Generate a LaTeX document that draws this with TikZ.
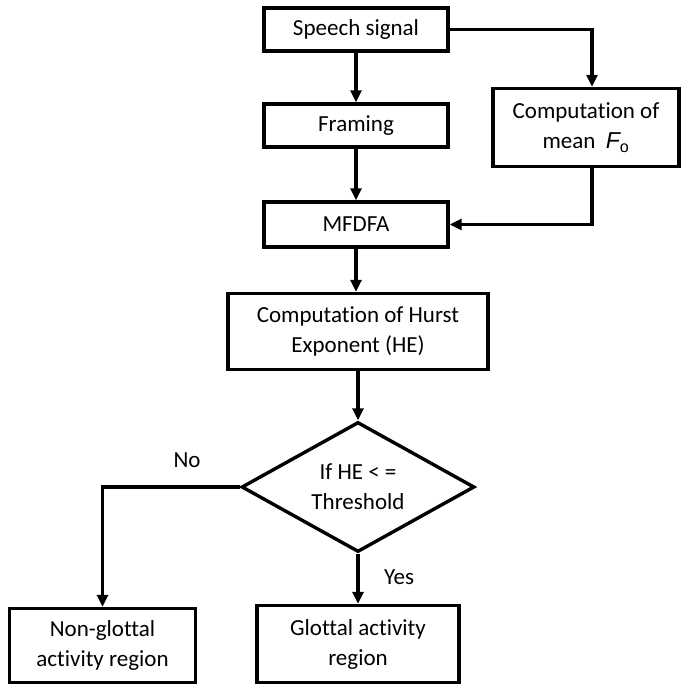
\documentclass[tikz,border=0pt]{standalone}
\usepackage{fontspec}
\setmainfont{Carlito}[Ligatures=NoCommon]
\newfontfamily\arialfont{Liberation Sans}
\usepackage{tikz}
\usetikzlibrary{arrows.meta, positioning, calc, shapes}

\tikzset{
    box/.style={draw, line width=3.4pt, inner sep=0pt, align=center,
        font=\fontsize{23}{30}\selectfont},
    decision/.style={diamond, draw, line width=3.4pt, inner sep=0pt, aspect=1.8,
        align=center, font=\fontsize{23}{30}\selectfont},
    arr/.style={-{Triangle[length=12pt, width=11pt]}, line width=3.4pt},
    lbl/.style={font=\fontsize{23}{30}\selectfont}
}

\begin{document}
\begin{tikzpicture}[x=1pt, y=-1pt]
    \useasboundingbox (0, 0) rectangle (682, 687);

    % 左列
    \node[box, minimum width=184, minimum height=43] (speech) at (356, 29.5) {Speech signal};
    \node[box, minimum width=184, minimum height=43] (framing) at (356, 125.5) {Framing};
    \node[box, minimum width=184, minimum height=45] (mfdfa) at (356, 224.5) {MFDFA};

    % 右侧 F0
    \node[box, minimum width=186, minimum height=78] (meanf) at (586, 127.5)
        {Computation of\\mean\ \ {\arialfont\itshape F}\textsubscript{\arialfont o}};

    % 下部
    \node[box, minimum width=260, minimum height=76] (hurst) at (358, 331.5)
        {Computation of Hurst\\Exponent (HE)};
    \node[decision, minimum width=233, minimum height=130] (dec) at (358, 487)
        {If HE < =\\Threshold};
    \node[box, minimum width=186, minimum height=74] (nong) at (102.5, 645.5)
        {Non-glottal\\activity region};
    \node[box, minimum width=202, minimum height=77] (glot) at (358, 644)
        {Glottal activity\\region};

    % 拐点
    \coordinate (c1) at (592, 29.5);
    \coordinate (c2) at (592, 224.5);

    % 箭头
    \draw[arr] (speech.south) -- (framing.north);
    \draw[arr] (framing.south) -- (mfdfa.north);
    \draw[arr] (speech.east) -- (c1) -- (c1 |- meanf.north);
    \draw[arr] (c1 |- meanf.south) -- (c2) -- (mfdfa.east);
    \draw[arr] (mfdfa.south) -- (mfdfa.south |- hurst.north);
    \draw[arr] (hurst.south) -- (dec.north);
    \draw[arr] (dec.west) -| (nong.north);
    \draw[arr] (dec.south) -- (glot.north);

    % 分支标签
    \node[lbl] (no) at (187, 460) {No};
    \node[lbl] (yes) at (399, 577) {Yes};
\end{tikzpicture}
\end{document}
